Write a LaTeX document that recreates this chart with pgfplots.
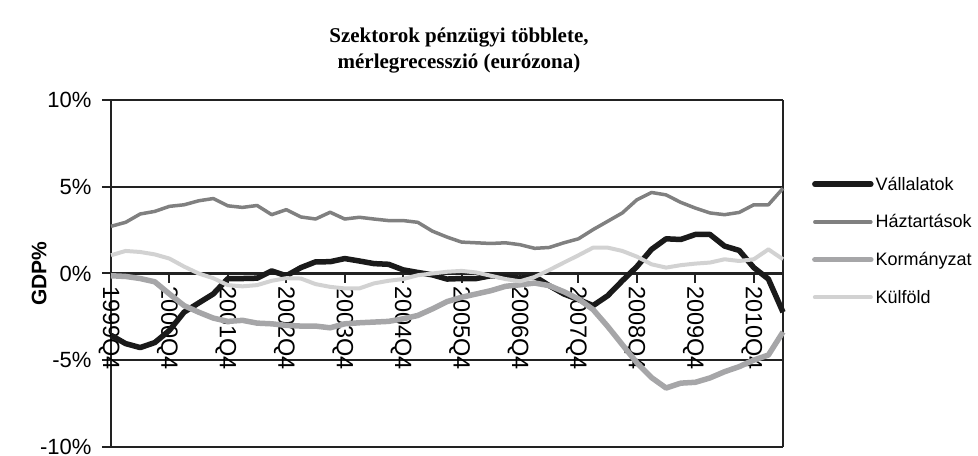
\documentclass[border=0pt]{standalone}
\usepackage{fontspec}
\setmainfont{Liberation Sans}
\newfontfamily\titlefont{Liberation Serif}
\usepackage{pgfplots}
\usepackage{pgfplotstable}
\pgfplotsset{compat=1.18}

% negyedéves adatok, 1999Q4 = 0
\pgfplotstableread{
i   vall   haz   korm   kulf
0  -3.56  2.72  -0.13  1.05
1  -4.04  2.95  -0.17  1.30
2  -4.27  3.43  -0.29  1.24
3  -3.98  3.58  -0.48  1.10
4  -3.28  3.87  -1.18  0.86
5  -2.23  3.96  -1.85  0.40
6  -1.70  4.19  -2.23  0.00
7  -1.18  4.32  -2.57  -0.27
8  -0.29  3.90  -2.76  -0.67
9  -0.29  3.81  -2.70  -0.74
10 -0.27  3.92  -2.86  -0.67
11  0.15  3.39  -2.90  -0.42
12 -0.13  3.68  -2.99  -0.27
13  0.34  3.26  -3.03  -0.29
14  0.67  3.14  -3.03  -0.61
15  0.68  3.53  -3.13  -0.77
16  0.86  3.14  -2.90  -0.86
17  0.72  3.24  -2.84  -0.86
18  0.57  3.14  -2.80  -0.57
19  0.53  3.05  -2.76  -0.42
20  0.21  3.05  -2.61  -0.32
21  0.06  2.95  -2.42  -0.10
22 -0.08  2.44  -2.04  0.00
23 -0.32  2.10  -1.62  0.10
24 -0.29  1.81  -1.37  0.15
25 -0.29  1.77  -1.18  0.06
26 -0.13  1.73  -0.99  -0.13
27 -0.19  1.77  -0.74  -0.32
28 -0.27  1.66  -0.65  -0.45
29 -0.17  1.45  -0.55  -0.20
30 -0.70  1.50  -0.70  0.20
31 -1.18  1.77  -1.05  0.63
32 -1.50  2.00  -1.47  1.05
33 -1.85  2.53  -2.08  1.49
34 -1.28  3.01  -3.05  1.49
35 -0.42  3.49  -4.10  1.30
36  0.40  4.25  -5.15  0.97
37  1.39  4.67  -6.00  0.53
38  2.00  4.53  -6.60  0.34
39  1.96  4.10  -6.32  0.48
40  2.25  3.77  -6.27  0.57
41  2.25  3.49  -6.02  0.63
42  1.58  3.39  -5.66  0.82
43  1.33  3.52  -5.37  0.72
44  0.34  3.96  -4.99  0.82
45 -0.32  3.96  -4.70  1.39
46 -2.23  4.91  -3.37  0.82
}\adat

\definecolor{cVall}{HTML}{1A1A1A}
\definecolor{cHaz}{HTML}{808080}
\definecolor{cKorm}{HTML}{A6A6A8}
\definecolor{cKulf}{HTML}{D2D2D2}
\definecolor{cGrid}{HTML}{222222}

\begin{document}
\begin{tikzpicture}
\path[use as bounding box] (0,0) rectangle (978bp,456bp);
\node[font=\titlefont\bfseries\fontsize{21bp}{26bp}\selectfont, align=center]
  at (459bp,405.5bp) {Szektorok pénzügyi többlete,\\mérlegrecesszió (eurózona)};
\begin{axis}[
    at={(111bp,9bp)}, anchor=south west,
    scale only axis,
    width=672bp, height=347bp,
    xmin=0, xmax=46, ymin=-10, ymax=10,
    axis x line=middle,
    axis y line=box,
    hide obscured x ticks=false,
    axis line style={-, cGrid, line width=2.5bp},
    every inner x axis line/.append style={-},
    ytick={-10,-5,0,5,10},
    yticklabels={-10\%,-5\%,0\%,5\%,10\%},
    ytick pos=left,
    xtick={0,4,...,44},
    xticklabels={1999Q4,2000Q4,2001Q4,2002Q4,2003Q4,2004Q4,2005Q4,2006Q4,2007Q4,2008Q4,2009Q4,2010Q4},
    tick align=outside,
    major tick length=9bp,
    tick style={cGrid, line width=2bp},
    ymajorgrids=true,
    grid style={cGrid, line width=2bp},
    yticklabel style={font=\fontsize{22bp}{24bp}\selectfont, xshift=-7bp},
    xticklabel style={font=\fontsize{23.5bp}{25bp}\selectfont, rotate=-90, anchor=west, yshift=-2bp},
    every axis y label/.style={at={(axis description cs:-0.107,0.5)}, rotate=90, anchor=center,
      font=\bfseries\fontsize{21bp}{23bp}\selectfont},
    ylabel={GDP\%},
    legend style={at={(1.043,0.785)}, anchor=north west, draw=none, fill=none,
      font=\fontsize{18bp}{20bp}\selectfont, /tikz/row sep=19bp,
      inner sep=0pt, nodes={inner sep=2bp}},
    legend cell align=left,
    legend image code/.code={\draw[#1, line cap=round] (0bp,0bp) -- (56bp,0bp);},
    clip=false,
]
\addplot[cVall, line width=5.5bp, line join=round] table[x=i, y=vall] {\adat};
\addlegendentry{Vállalatok}
\addplot[cHaz, line width=3.5bp, line join=round] table[x=i, y=haz] {\adat};
\addlegendentry{Háztartások}
\addplot[cKorm, line width=5.5bp, line join=round] table[x=i, y=korm] {\adat};
\addlegendentry{Kormányzat}
\addplot[cKulf, line width=4bp, line join=round] table[x=i, y=kulf] {\adat};
\addlegendentry{Külföld}
\end{axis}
\end{tikzpicture}
\end{document}
